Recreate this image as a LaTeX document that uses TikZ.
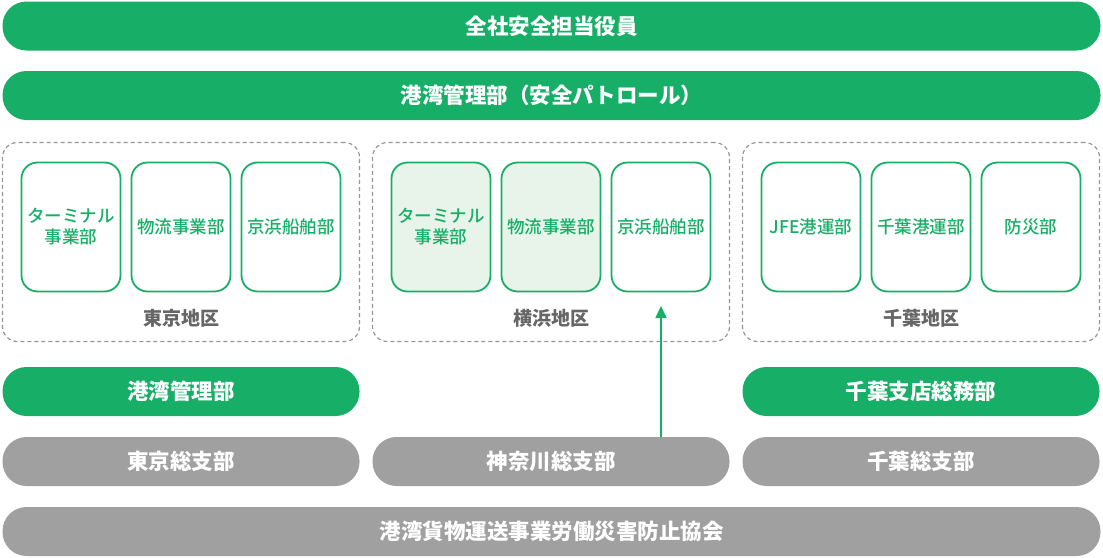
\documentclass[tikz,border=0pt]{standalone}
\usepackage{fontspec}
\setmainfont{Noto Sans CJK JP}
\newfontfamily\jpmed{Noto Sans CJK JP Medium}
\usetikzlibrary{arrows.meta}
\definecolor{mainG}{RGB}{23,175,103}
\definecolor{lightG}{RGB}{232,244,234}
\definecolor{barGray}{RGB}{160,160,160}
\definecolor{lineGray}{RGB}{150,150,150}
\definecolor{textGray}{RGB}{102,102,102}

\begin{document}
\begin{tikzpicture}[x=1pt, y=-1pt, >=Stealth,
  bar/.style={rounded corners=24pt, minimum height=49pt, inner sep=0pt,
    text=white, font=\fontsize{21.5}{24}\selectfont\bfseries},
  greenbar/.style={bar, fill=mainG},
  graybar/.style={bar, fill=barGray},
  area/.style={draw=lineGray, line width=1.2pt, dash pattern=on 4pt off 3pt,
    rounded corners=15pt, minimum width=357pt, minimum height=199pt},
  unit/.style={draw=mainG, line width=1.8pt, rounded corners=16pt,
    minimum width=99pt, minimum height=129pt, inner sep=0pt, text=mainG,
    align=center, font=\fontsize{17.5}{21}\jpmed},
  areaname/.style={text=textGray, font=\fontsize{19}{22}\selectfont\bfseries}]
\useasboundingbox (0,0) rectangle (1103,557);
% 上部
\node[greenbar, minimum width=1098pt] (officer) at (551.5,26) {全社安全担当役員};
\node[greenbar, minimum width=1098pt] (patrol) at (551.5,95.5) {港湾管理部（安全パトロール）};
% 地区
\node[area] (tokyo) at (181,242) {};
\node[area] (yokohama) at (551,242) {};
\node[area] (chiba) at (921,242) {};
\node[areaname] at (181,318) {東京地区};
\node[areaname] at (551,318) {横浜地区};
\node[areaname] at (921,318) {千葉地区};
% 各部
\node[unit] (tkTerminal) at (71,227) {ターミナル\\事業部};
\node[unit] (tkLogi) at (181,227) {物流事業部};
\node[unit] (tkShip) at (291,227) {京浜船舶部};
\node[unit, fill=lightG] (ykTerminal) at (441,227) {ターミナル\\事業部};
\node[unit, fill=lightG] (ykLogi) at (551,227) {物流事業部};
\node[unit] (ykShip) at (661,227) {京浜船舶部};
\node[unit] (cbJfe) at (811,227) {JFE港運部};
\node[unit] (cbPort) at (921,227) {千葉港運部};
\node[unit] (cbSafety) at (1031,227) {防災部};
% 下部
\node[greenbar, minimum width=357pt] (portMgmt) at (181,391.5) {港湾管理部};
\node[greenbar, minimum width=357pt] (chibaGA) at (921,391.5) {千葉支店総務部};
\node[graybar, minimum width=357pt] (tokyoBr) at (181,461.5) {東京総支部};
\node[graybar, minimum width=357pt] (kanagawaBr) at (551,461.5) {神奈川総支部};
\node[graybar, minimum width=357pt] (chibaBr) at (921,461.5) {千葉総支部};
\node[graybar, minimum width=1098pt] (assoc) at (551.5,531.5) {港湾貨物運送事業労働災害防止協会};
% 矢印
\coordinate (tip) at (661,306);
\draw[-{Triangle[length=12pt,width=11pt]}, mainG, line width=1.6pt]
  (kanagawaBr.north -| tip) -- (tip);
\end{tikzpicture}
\end{document}
